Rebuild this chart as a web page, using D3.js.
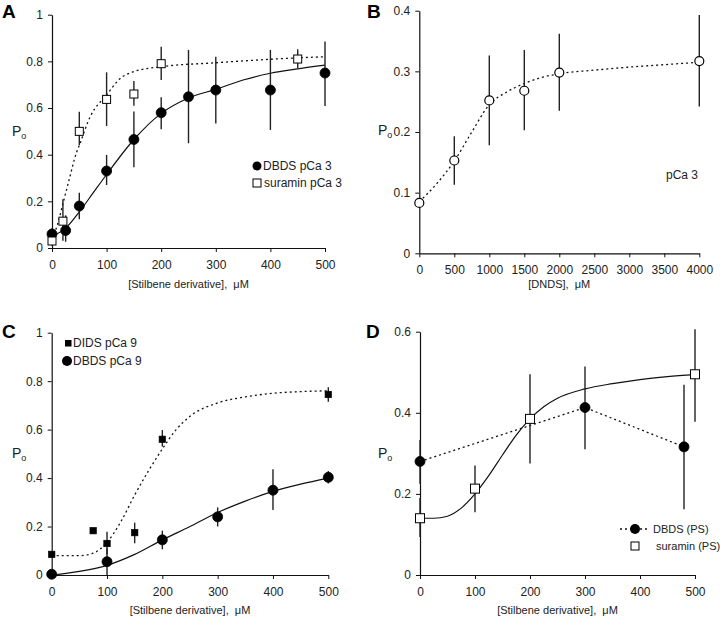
<!DOCTYPE html>
<html>
<head>
<meta charset="utf-8">
<script src="https://cdn.jsdelivr.net/npm/d3@7"></script>
<style>
  html, body { margin: 0; padding: 0; background: #fff; }
  svg { display: block; font-family: "Liberation Sans", Arial, Helvetica, sans-serif; }
</style>
</head>
<body>
<svg id="chart" width="720" height="618"></svg>
<script>
// ---------------- DATA ----------------
// Panel A
const aX_DBDS  = [0, 25, 50, 100, 150, 200, 250, 300, 400, 500];
const aY_DBDS  = [0.06, 0.075, 0.18, 0.33, 0.465, 0.58, 0.648, 0.677, 0.677, 0.75];
const aLo_DBDS = [0.035, 0.027, 0.123, 0.27, 0.346, 0.509, 0.449, 0.534, 0.506, 0.609];
const aHi_DBDS = [0.085, 0.14, 0.237, 0.399, 0.585, 0.646, 0.849, 0.82, 0.849, 0.885];
const aX_sur   = [0, 20, 50, 100, 150, 200, 450];
const aY_sur   = [0.03, 0.115, 0.5, 0.637, 0.66, 0.79, 0.81];
const aLo_sur  = [0.01, 0.031, 0.44, 0.523, 0.61, 0.72, 0.77];
const aHi_sur  = [0.05, 0.209, 0.584, 0.753, 0.716, 0.863, 0.852];
const aFitX_DBDS = [0, 25, 50, 75, 100, 150, 200, 250, 300, 350, 400, 450, 500];
const aFitY_DBDS = [0.05, 0.085, 0.155, 0.235, 0.315, 0.465, 0.577, 0.643, 0.68, 0.72, 0.749, 0.768, 0.784];
const aFitX_sur  = [0, 10, 20, 30, 45, 50, 70, 100, 125, 150, 200, 300, 400, 500];
const aFitY_sur  = [0.04, 0.1, 0.19, 0.28, 0.41, 0.44, 0.563, 0.656, 0.727, 0.756, 0.777, 0.794, 0.809, 0.82];
const aXTicks = [0, 100, 200, 300, 400, 500];
const aYTicks = [0, 0.2, 0.4, 0.6, 0.8, 1];

// Panel B
const bX  = [0, 500, 1000, 1500, 2000, 4000];
const bY  = [0.083, 0.153, 0.252, 0.268, 0.298, 0.317];
const bLo = [0.083, 0.113, 0.178, 0.203, 0.235, 0.242];
const bHi = [0.083, 0.193, 0.326, 0.335, 0.362, 0.393];
const bFitX = [0, 250, 500, 750, 1000, 1250, 1500, 1750, 2000, 2500, 3000, 3500, 4000];
const bFitY = [0.085, 0.115, 0.152, 0.2, 0.245, 0.266, 0.28, 0.29, 0.296, 0.302, 0.307, 0.311, 0.315];
const bXTicks = [0, 500, 1000, 1500, 2000, 2500, 3000, 3500, 4000];
const bYTicks = [0, 0.1, 0.2, 0.3, 0.4];

// Panel C
const cX_DIDS  = [0, 75, 100, 150, 200, 500];
const cY_DIDS  = [0.085, 0.183, 0.13, 0.175, 0.56, 0.745];
const cLo_DIDS = [0.085, 0.183, 0.085, 0.131, 0.53, 0.715];
const cHi_DIDS = [0.085, 0.183, 0.178, 0.216, 0.598, 0.775];
const cX_DBDS  = [0, 100, 200, 300, 400, 500];
const cY_DBDS  = [0.003, 0.055, 0.145, 0.24, 0.35, 0.403];
const cLo_DBDS = [0, 0, 0.106, 0.2, 0.268, 0.378];
const cHi_DBDS = [0.003, 0.11, 0.183, 0.279, 0.436, 0.429];
const cFitX_DIDS = [0, 50, 75, 100, 125, 150, 175, 200, 225, 250, 300, 350, 400, 450, 500];
const cFitY_DIDS = [0.08, 0.08, 0.09, 0.135, 0.22, 0.33, 0.43, 0.52, 0.6, 0.655, 0.71, 0.735, 0.75, 0.757, 0.76];
const cFitX_DBDS = [0, 50, 100, 150, 200, 250, 300, 350, 400, 450, 500];
const cFitY_DBDS = [0.0, 0.015, 0.04, 0.085, 0.145, 0.2, 0.258, 0.305, 0.345, 0.375, 0.4];
const cXTicks = [0, 100, 200, 300, 400, 500];
const cYTicks = [0, 0.2, 0.4, 0.6, 0.8, 1];

// Panel D
const dX_DBDS  = [0, 300, 480];
const dY_DBDS  = [0.28, 0.413, 0.316];
const dLo_DBDS = [0.225, 0.31, 0.162];
const dHi_DBDS = [0.333, 0.514, 0.469];
const dX_sur   = [0, 100, 200, 500];
const dY_sur   = [0.14, 0.213, 0.385, 0.495];
const dLo_sur  = [0.094, 0.155, 0.275, 0.378];
const dHi_sur  = [0.19, 0.27, 0.495, 0.606];
const dFitX_sur = [0, 25, 50, 75, 100, 125, 150, 175, 200, 225, 250, 300, 350, 400, 450, 500];
const dFitY_sur = [0.14, 0.14, 0.145, 0.165, 0.2, 0.245, 0.296, 0.345, 0.385, 0.415, 0.436, 0.459, 0.472, 0.482, 0.489, 0.494];
const dXTicks = [0, 100, 200, 300, 400, 500];
const dYTicks = [0, 0.2, 0.4, 0.6];

// ---------------- DRAWING ----------------
const svg = d3.select("#chart");
const zip = (xs, ys) => xs.map((x, i) => [x, ys[i]]);
const fmt = d => String(Math.round(d * 10) / 10);

function makePanel(cfg) {
  const g = svg.append("g");
  const x = d3.scaleLinear().domain(cfg.xDomain).range(cfg.xRange);
  const y = d3.scaleLinear().domain(cfg.yDomain).range(cfg.yRange);

  const xa = g.append("g").attr("transform", `translate(0,${cfg.yRange[0]})`)
    .call(d3.axisBottom(x).tickValues(cfg.xTicks).tickSize(4).tickSizeOuter(0).tickPadding(8).tickFormat(d => String(d)));
  const ya = g.append("g").attr("transform", `translate(${cfg.xRange[0]},0)`)
    .call(d3.axisLeft(y).tickValues(cfg.yTicks).tickSize(4).tickSizeOuter(0).tickPadding(5).tickFormat(fmt));
  [xa, ya].forEach(a => {
    a.selectAll("text").attr("font-size", 12).attr("fill", "#222").attr("font-family", "Liberation Sans, Arial, sans-serif");
    a.selectAll("line").attr("stroke", "#111").attr("stroke-width", 1);
    a.select(".domain").attr("stroke", "#111").attr("stroke-width", 1.2);
  });

  // x axis title
  g.append("text")
    .attr("x", (cfg.xRange[0] + cfg.xRange[1]) / 2)
    .attr("y", cfg.titleY)
    .attr("text-anchor", "middle")
    .attr("font-size", 11)
    .attr("fill", "#222")
    .text(cfg.xTitle);

  // y label P_o
  const pl = g.append("text").attr("x", cfg.pX).attr("y", cfg.pY).attr("fill", "#222");
  pl.append("tspan").attr("font-size", 14).text("P");
  pl.append("tspan").attr("font-size", 9).attr("dy", 3).text("o");

  // panel letter
  g.append("text").attr("x", cfg.letterX).attr("y", cfg.letterY)
    .attr("font-size", 19).attr("font-weight", "bold").attr("fill", "#000").text(cfg.letter);

  return { g, x, y };
}

function drawLine(p, xs, ys, dotted, curve) {
  const line = d3.line().x(d => p.x(d[0])).y(d => p.y(d[1])).curve(curve || d3.curveMonotoneX);
  p.g.append("path").datum(zip(xs, ys))
    .attr("d", line).attr("fill", "none")
    .attr("stroke", "#111").attr("stroke-width", dotted ? 1.3 : 1.2)
    .attr("stroke-dasharray", dotted ? "2,3" : null);
}

function drawErr(p, xs, lo, hi) {
  p.g.append("g").selectAll("line").data(xs.map((x, i) => [x, lo[i], hi[i]])).join("line")
    .attr("x1", d => p.x(d[0])).attr("x2", d => p.x(d[0]))
    .attr("y1", d => p.y(d[1])).attr("y2", d => p.y(d[2]))
    .attr("stroke", "#222").attr("stroke-width", 1.4);
}

function drawCircles(p, xs, ys, r, fill) {
  p.g.append("g").selectAll("circle").data(zip(xs, ys)).join("circle")
    .attr("cx", d => p.x(d[0])).attr("cy", d => p.y(d[1])).attr("r", r)
    .attr("fill", fill).attr("stroke", "#000").attr("stroke-width", fill === "#fff" ? 1.2 : 0.8);
}

function drawSquares(p, xs, ys, s, fill) {
  p.g.append("g").selectAll("rect").data(zip(xs, ys)).join("rect")
    .attr("x", d => p.x(d[0]) - s / 2).attr("y", d => p.y(d[1]) - s / 2)
    .attr("width", s).attr("height", s)
    .attr("fill", fill).attr("stroke", "#000").attr("stroke-width", fill === "#fff" ? 1 : 0.6);
}

function legendText(g, x, y, t, size) {
  g.append("text").attr("x", x).attr("y", y).attr("dy", "0.35em")
    .attr("font-size", size || 12).attr("fill", "#222").text(t);
}

const stilbene = "[Stilbene derivative],\u00A0 \u03BCM";

// ---- Panel A ----
const A = makePanel({
  xDomain: [0, 500], xRange: [52, 325], yDomain: [0, 1], yRange: [248, 14.7],
  xTicks: aXTicks, yTicks: aYTicks, xTitle: stilbene, titleY: 288,
  pX: 12, pY: 136, letter: "A", letterX: 2, letterY: 18
});
drawLine(A, aFitX_sur, aFitY_sur, true);
drawLine(A, aFitX_DBDS, aFitY_DBDS, false);
drawErr(A, aX_sur, aLo_sur, aHi_sur);
drawErr(A, aX_DBDS, aLo_DBDS, aHi_DBDS);
drawCircles(A, aX_DBDS, aY_DBDS, 5, "#000");
drawSquares(A, aX_sur, aY_sur, 8, "#fff");
A.g.append("circle").attr("cx", 257).attr("cy", 166).attr("r", 4.5).attr("fill", "#000");
legendText(A.g, 263, 166, "DBDS pCa 3");
A.g.append("rect").attr("x", 253).attr("y", 179).attr("width", 8).attr("height", 8).attr("fill", "#fff").attr("stroke", "#000");
legendText(A.g, 264, 183, "suramin pCa 3");

// ---- Panel B ----
const B = makePanel({
  xDomain: [0, 4000], xRange: [419.3, 699.3], yDomain: [0, 0.4], yRange: [253.3, 10.7],
  xTicks: bXTicks, yTicks: bYTicks, xTitle: "[DNDS],\u00A0 \u03BCM", titleY: 288,
  pX: 378, pY: 135, letter: "B", letterX: 367, letterY: 18
});
drawLine(B, bFitX, bFitY, true);
drawErr(B, bX, bLo, bHi);
drawCircles(B, bX, bY, 4.5, "#fff");
legendText(B.g, 666, 175, "pCa 3");

// ---- Panel C ----
const C = makePanel({
  xDomain: [0, 500], xRange: [51.7, 328.3], yDomain: [0, 1], yRange: [575, 332.7],
  xTicks: cXTicks, yTicks: cYTicks, xTitle: stilbene, titleY: 614,
  pX: 12, pY: 458, letter: "C", letterX: 2, letterY: 338
});
drawLine(C, cFitX_DIDS, cFitY_DIDS, true);
drawLine(C, cFitX_DBDS, cFitY_DBDS, false);
drawErr(C, cX_DIDS, cLo_DIDS, cHi_DIDS);
drawErr(C, cX_DBDS, cLo_DBDS, cHi_DBDS);
drawSquares(C, cX_DIDS, cY_DIDS, 6.5, "#000");
drawCircles(C, cX_DBDS, cY_DBDS, 5, "#000");
C.g.append("rect").attr("x", 65).attr("y", 340).attr("width", 6.5).attr("height", 6.5).attr("fill", "#000");
legendText(C.g, 73, 343, "DIDS pCa 9");
C.g.append("circle").attr("cx", 67).attr("cy", 361).attr("r", 5).attr("fill", "#000");
legendText(C.g, 73, 361, "DBDS pCa 9");

// ---- Panel D ----
const D = makePanel({
  xDomain: [0, 500], xRange: [420, 695], yDomain: [0, 0.6], yRange: [575, 331.7],
  xTicks: dXTicks, yTicks: dYTicks, xTitle: stilbene, titleY: 614,
  pX: 378, pY: 458, letter: "D", letterX: 366, letterY: 338
});
drawLine(D, dX_DBDS, dY_DBDS, true, d3.curveLinear);
drawLine(D, dFitX_sur, dFitY_sur, false);
drawErr(D, dX_DBDS, dLo_DBDS, dHi_DBDS);
drawErr(D, dX_sur, dLo_sur, dHi_sur);
drawCircles(D, dX_DBDS, dY_DBDS, 5, "#000");
drawSquares(D, dX_sur, dY_sur, 9, "#fff");
D.g.append("line").attr("x1", 620).attr("x2", 650).attr("y1", 529).attr("y2", 529)
  .attr("stroke", "#111").attr("stroke-width", 1.3).attr("stroke-dasharray", "2,3");
D.g.append("circle").attr("cx", 635).attr("cy", 529).attr("r", 5).attr("fill", "#000");
legendText(D.g, 653, 529, "DBDS (PS)", 11);
D.g.append("rect").attr("x", 631).attr("y", 542).attr("width", 8).attr("height", 8).attr("fill", "#fff").attr("stroke", "#000");
legendText(D.g, 656, 546, "suramin (PS)", 11);
</script>
</body>
</html>
